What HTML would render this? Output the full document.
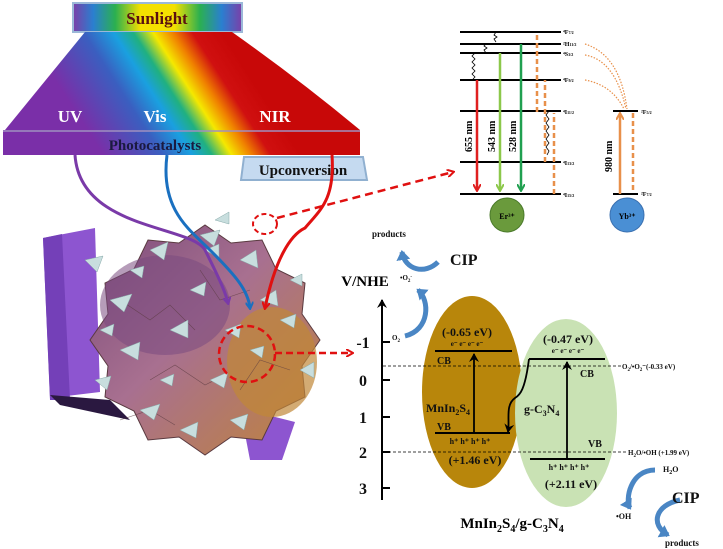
<!DOCTYPE html>
<html><head><meta charset="utf-8"><style>
body{margin:0;background:#fff}
svg{display:block;font-family:"Liberation Serif",serif;font-weight:bold}
</style></head><body>
<svg width="723" height="549" viewBox="0 0 723 549" xmlns="http://www.w3.org/2000/svg">
<defs>
<linearGradient id="sun" x1="0" x2="1">
<stop offset="0" stop-color="#7b3fa8"/><stop offset="0.12" stop-color="#2a7fd0"/><stop offset="0.25" stop-color="#2bb050"/><stop offset="0.4" stop-color="#f4e000"/><stop offset="0.6" stop-color="#f4e000"/><stop offset="0.75" stop-color="#2bb050"/><stop offset="0.88" stop-color="#2a7fd0"/><stop offset="1" stop-color="#7b3fa8"/>
</linearGradient>
<linearGradient id="spec" gradientUnits="userSpaceOnUse" x1="100" y1="150" x2="240" y2="60">
<stop offset="0" stop-color="#7a2fa8"/><stop offset="0.3" stop-color="#3a5fc0"/><stop offset="0.45" stop-color="#1aa0e0"/><stop offset="0.55" stop-color="#20b080"/><stop offset="0.65" stop-color="#f5e800"/><stop offset="0.75" stop-color="#f08000"/><stop offset="0.85" stop-color="#d01010"/><stop offset="1" stop-color="#c80808"/>
</linearGradient>
<linearGradient id="blob" x1="0" y1="0" x2="1" y2="1">
<stop offset="0" stop-color="#7a4a7a"/><stop offset="0.45" stop-color="#a87090"/><stop offset="1" stop-color="#c08438"/>
</linearGradient>
<marker id="ar" markerWidth="8" markerHeight="8" refX="6" refY="4" orient="auto" markerUnits="userSpaceOnUse"><path d="M0,0 L7,4 L0,8" fill="none" stroke="context-stroke" stroke-width="2"/></marker>
<marker id="ab" markerWidth="10" markerHeight="10" refX="8" refY="5" orient="auto" markerUnits="userSpaceOnUse"><path d="M0,0 L9,5 L0,10 L3,5z" fill="#000"/></marker>
<marker id="ablue" markerWidth="14" markerHeight="14" refX="8" refY="7" orient="auto" markerUnits="userSpaceOnUse"><path d="M0,0 L10,7 L0,14z" fill="#4a86c4"/></marker>
</defs>

<rect x="73" y="3" width="169" height="29" fill="url(#sun)" stroke="#9bb8d8" stroke-width="2"/>
<text x="157" y="24" font-size="17" text-anchor="middle" fill="#5a1010">Sunlight</text>
<path d="M85,32 L232,32 Q300,80 360,130 L5,130 Z" fill="url(#spec)"/>
<rect x="3" y="130" width="357" height="25" fill="url(#spec)"/>
<line x1="3" y1="131" x2="360" y2="131" stroke="#a090c0" stroke-width="1.5"/>
<text x="70" y="122" font-size="17" fill="#fff" text-anchor="middle">UV</text>
<text x="155" y="122" font-size="17" fill="#fff" text-anchor="middle">Vis</text>
<text x="275" y="122" font-size="17" fill="#fff" text-anchor="middle">NIR</text>
<text x="155" y="150" font-size="15" fill="#1a1a40" text-anchor="middle">Photocatalysts</text>
<path d="M244,157 L363,157 L367,180 L241,180 Z" fill="#c5daf0" stroke="#90b0d0" stroke-width="2"/>
<text x="303" y="175" font-size="15" fill="#111" text-anchor="middle">Upconversion</text>

<!-- material -->
<path d="M43,238 L95,228 L100,392 L50,398 Z" fill="#8d55d0"/>
<path d="M43,238 L62,234 L70,400 L50,400Z" fill="#7440b8"/>
<path d="M50,395 L110,400 L130,420 L60,405Z" fill="#2a1840"/>
<path d="M240,408 L295,422 L282,460 L250,460Z" fill="#8d55d0"/>
<polygon points="320,340 302,314 305,283 276,269 262,240 231,243 205,225 179,243 148,240 134,269 105,283 108,314 90,340 108,366 105,397 134,411 148,440 179,437 205,455 231,437 262,440 276,411 305,397 302,366" fill="url(#blob)" stroke="#5a3a40" stroke-width="1"/>
<ellipse cx="165" cy="305" rx="65" ry="50" fill="#7a4a80" opacity="0.55"/>
<ellipse cx="272" cy="362" rx="45" ry="55" fill="#c08838" opacity="0.7"/>
<g fill="none" stroke="#5a3a40" stroke-width="0.6" opacity="0.7">
<path d="M120,300 l30,20 l20,-15 l25,25"/><path d="M150,380 l25,-15 l30,20 l20,-10"/><path d="M200,270 l20,30 l30,-10"/><path d="M240,390 l20,-30 l30,10"/><path d="M120,420 l30,-10 l25,15"/>
</g>
<g fill="#c8dede" stroke="#8aa" stroke-width="0.5">
<path d="M150,250 l18,-8 l-4,18z"/><path d="M200,235 l20,-5 l-6,16z"/><path d="M240,260 l16,-10 l2,18z"/>
<path d="M110,300 l22,-6 l-8,18z"/><path d="M85,260 l18,-4 l-6,16z"/><path d="M120,350 l20,-8 l-2,18z"/>
<path d="M170,330 l18,-10 l0,18z"/><path d="M210,380 l18,-8 l-4,16z"/><path d="M140,410 l20,-6 l-6,16z"/>
<path d="M180,430 l18,-8 l-2,16z"/><path d="M230,420 l18,-6 l-4,16z"/><path d="M280,320 l16,-6 l-2,14z"/>
<path d="M300,370 l14,-8 l0,16z"/><path d="M260,300 l16,-10 l2,16z"/><path d="M95,380 l16,-4 l-4,14z"/>
<path d="M190,290 l16,-8 l-2,14z"/><path d="M225,330 l16,-6 l-2,14z"/><path d="M130,270 l14,-4 l-2,12z"/>
<path d="M160,380 l14,-6 l-2,12z"/><path d="M250,350 l14,-4 l-2,12z"/><path d="M205,250 l14,-6 l0,14z"/>
<path d="M100,330 l14,-6 l-2,12z"/><path d="M290,280 l12,-6 l0,12z"/><path d="M215,220 l14,-8 l0,12z"/>
</g>
<path d="M75,155 C80,230 190,225 205,250 C215,270 225,290 228,303" fill="none" stroke="#7a3aa8" stroke-width="3" marker-end="url(#ar)"/>
<path d="M167,155 C160,210 190,230 210,250 C235,275 248,290 250,308" fill="none" stroke="#1a70c0" stroke-width="3" marker-end="url(#ar)"/>
<path d="M332,155 C335,200 320,210 305,228 C290,235 275,260 265,308" fill="none" stroke="#e01010" stroke-width="3" marker-end="url(#ar)"/>
<ellipse cx="265" cy="224" rx="12" ry="10" fill="none" stroke="#e01010" stroke-width="2" stroke-dasharray="5,3"/>
<path d="M277,218 L453,172" stroke="#e01010" stroke-width="2.5" stroke-dasharray="8,5" fill="none" marker-end="url(#ar)"/>
<circle cx="247" cy="354" r="28" fill="none" stroke="#e01010" stroke-width="2.5" stroke-dasharray="7,4"/>
<path d="M275,353 L352,353" stroke="#e01010" stroke-width="2.5" stroke-dasharray="7,4" fill="none" marker-end="url(#ar)"/>

<g stroke="#000" stroke-width="2">
<line x1="460" y1="32" x2="561" y2="32"/><line x1="460" y1="44" x2="561" y2="44"/><line x1="460" y1="53" x2="561" y2="53"/>
<line x1="460" y1="80" x2="561" y2="80"/><line x1="460" y1="111" x2="561" y2="111"/><line x1="460" y1="162" x2="561" y2="162"/>
<line x1="460" y1="194" x2="561" y2="194"/><line x1="613" y1="111" x2="638" y2="111"/><line x1="613" y1="194" x2="638" y2="194"/>
</g>
<g fill="none" stroke="#000" stroke-width="0.8">
<path d="M496,32 l-2,3 l3,2 l-3,2 l2,3"/><path d="M486,44 l-2,2 l3,2 l-3,2 l2,3"/>
<path d="M475,53 l-3,3 l3,3 l-3,3 l3,3 l-3,3 l3,3 l-3,3 l3,3 l-2,2"/>
<path d="M549,111 l-3,4 l3,4 l-3,4 l3,4 l-3,4 l3,4 l-3,4 l3,4 l-3,4 l3,4 l-2,4"/>
</g>
<line x1="477" y1="80" x2="477" y2="190" stroke="#e02020" stroke-width="2.5" marker-end="url(#ar)"/>
<line x1="500" y1="53" x2="500" y2="190" stroke="#8cc84a" stroke-width="2.5" marker-end="url(#ar)"/>
<line x1="521" y1="44" x2="521" y2="190" stroke="#20a050" stroke-width="2.5" marker-end="url(#ar)"/>
<g stroke="#e8904a" stroke-width="2.5" stroke-dasharray="5,3">
<line x1="537" y1="112" x2="537" y2="32"/><line x1="545" y1="162" x2="545" y2="80"/><line x1="554" y1="194" x2="554" y2="113"/>
<line x1="633" y1="113" x2="633" y2="192"/>
</g>
<line x1="620" y1="194" x2="620" y2="114" stroke="#e8904a" stroke-width="2.5" marker-end="url(#ar)"/>
<g fill="none" stroke="#e8904a" stroke-width="1.2" stroke-dasharray="1.5,1.5">
<path d="M585,44 Q620,55 627,109"/><path d="M585,55 Q615,60 626,109"/><path d="M585,80 Q612,85 624,109"/>
</g>
<g font-size="6" fill="#000">
<text x="563" y="34">⁴F<tspan font-size="4">7/2</tspan></text><text x="563" y="46">²H<tspan font-size="4">11/2</tspan></text>
<text x="563" y="56">⁴S<tspan font-size="4">3/2</tspan></text><text x="563" y="82">⁴F<tspan font-size="4">9/2</tspan></text>
<text x="563" y="114">⁴I<tspan font-size="4">11/2</tspan></text><text x="563" y="165">⁴I<tspan font-size="4">13/2</tspan></text>
<text x="563" y="197">⁴I<tspan font-size="4">15/2</tspan></text>
<text x="641" y="114">²F<tspan font-size="4">5/2</tspan></text><text x="641" y="196">²F<tspan font-size="4">7/2</tspan></text>
</g>
<g font-size="10" fill="#000">
<text transform="translate(472,152) rotate(-90)">655 nm</text>
<text transform="translate(495,152) rotate(-90)">543 nm</text>
<text transform="translate(516,152) rotate(-90)">528 nm</text>
<text transform="translate(612,172) rotate(-90)">980 nm</text>
</g>
<circle cx="507" cy="215" r="17" fill="#6a9a3c" stroke="#4a7a2a"/>
<text x="507" y="219" font-size="8" text-anchor="middle">Er³⁺</text>
<circle cx="627" cy="215" r="17" fill="#4a8fd4" stroke="#3a70b0"/>
<text x="627" y="219" font-size="8" text-anchor="middle">Yb³⁺</text>

<ellipse cx="472" cy="392" rx="50" ry="96" fill="#b8860b"/>
<ellipse cx="566" cy="413" rx="51" ry="94" fill="#c9e2b4"/>
<line x1="382" y1="500" x2="382" y2="300" stroke="#000" stroke-width="2" marker-end="url(#ab)"/>
<g stroke="#000" stroke-width="2">
<line x1="382" y1="342" x2="390" y2="342"/><line x1="382" y1="380" x2="390" y2="380"/><line x1="382" y1="417" x2="390" y2="417"/>
<line x1="382" y1="452" x2="390" y2="452"/><line x1="382" y1="488" x2="390" y2="488"/>
</g>
<g font-size="16" text-anchor="middle" fill="#111">
<text x="363" y="348">-1</text><text x="363" y="386">0</text><text x="363" y="423">1</text><text x="363" y="458">2</text><text x="363" y="494">3</text>
</g>
<text x="365" y="286" font-size="15" text-anchor="middle">V/NHE</text>
<line x1="383" y1="366" x2="622" y2="366" stroke="#000" stroke-dasharray="3,2" stroke-width="0.8"/>
<line x1="383" y1="452" x2="626" y2="452" stroke="#000" stroke-dasharray="3,2" stroke-width="0.8"/>
<g stroke="#000" stroke-width="2">
<line x1="435" y1="351" x2="512" y2="351"/><line x1="435" y1="433" x2="510" y2="433"/>
<line x1="529" y1="359" x2="605" y2="359"/><line x1="530" y1="459" x2="605" y2="459"/>
</g>
<line x1="474" y1="433" x2="474" y2="354" stroke="#000" stroke-width="1.8" marker-end="url(#ab)"/>
<line x1="567" y1="459" x2="567" y2="362" stroke="#000" stroke-width="1.8" marker-end="url(#ab)"/>
<path d="M529,359 C525,390 520,395 515,398 C505,405 510,420 508,432" fill="none" stroke="#000" stroke-width="1.8" marker-end="url(#ab)"/>
<g font-size="11" fill="#111">
<text x="467" y="336" text-anchor="middle" font-size="12">(-0.65 eV)</text>
<text x="467" y="346" text-anchor="middle" font-size="7">e⁻ e⁻ e⁻ e⁻</text>
<text x="437" y="364" font-size="10">CB</text>
<text x="426" y="412" font-size="12">MnIn<tspan font-size="8" dy="3">2</tspan><tspan dy="-3">S</tspan><tspan font-size="8" dy="3">4</tspan></text>
<text x="437" y="430" font-size="10">VB</text>
<text x="470" y="444" text-anchor="middle" font-size="8">h⁺ h⁺ h⁺ h⁺</text>
<text x="475" y="464" text-anchor="middle" font-size="12">(+1.46 eV)</text>
<text x="568" y="343" text-anchor="middle" font-size="12">(-0.47 eV)</text>
<text x="568" y="353" text-anchor="middle" font-size="7">e⁻ e⁻ e⁻ e⁻</text>
<text x="580" y="377" font-size="10">CB</text>
<text x="524" y="413" font-size="12">g-C<tspan font-size="8" dy="3">3</tspan><tspan dy="-3">N</tspan><tspan font-size="8" dy="3">4</tspan></text>
<text x="588" y="447" font-size="10">VB</text>
<text x="569" y="470" text-anchor="middle" font-size="8">h⁺ h⁺ h⁺ h⁺</text>
<text x="571" y="488" text-anchor="middle" font-size="12">(+2.11 eV)</text>
<text x="622" y="369" font-size="7">O<tspan font-size="5" dy="2">2</tspan><tspan dy="-2">/•O</tspan><tspan font-size="5" dy="2">2</tspan><tspan dy="-2">⁻(-0.33 eV)</tspan></text>
<text x="628" y="455" font-size="7">H<tspan font-size="5" dy="2">2</tspan><tspan dy="-2">O/•OH  (+1.99 eV)</tspan></text>
</g>
<text x="512" y="528" font-size="15" text-anchor="middle">MnIn<tspan font-size="10" dy="4">2</tspan><tspan dy="-4">S</tspan><tspan font-size="10" dy="4">4</tspan><tspan dy="-4">/g-C</tspan><tspan font-size="10" dy="4">3</tspan><tspan dy="-4">N</tspan><tspan font-size="10" dy="4">4</tspan></text>

<g fill="none" stroke="#4a86c4" stroke-width="5">
<path d="M438,262 C425,275 405,270 402,252" marker-end="url(#ablue)"/>
<path d="M405,336 C430,330 430,300 418,290" marker-end="url(#ablue)"/>
<path d="M655,470 C630,470 625,500 630,508" marker-end="url(#ablue)"/>
<path d="M680,500 C655,505 650,525 668,535" marker-end="url(#ablue)"/>
</g>
<g fill="#111">
<text x="372" y="237" font-size="9">products</text>
<text x="450" y="265" font-size="16">CIP</text>
<text x="400" y="280" font-size="7">•O<tspan font-size="5" dy="2">2</tspan><tspan dy="-4" font-size="5">-</tspan></text>
<text x="392" y="340" font-size="7">O<tspan font-size="5" dy="2">2</tspan></text>
<text x="663" y="472" font-size="8">H<tspan font-size="6" dy="2">2</tspan><tspan dy="-2">O</tspan></text>
<text x="616" y="519" font-size="8">•OH</text>
<text x="672" y="503" font-size="16">CIP</text>
<text x="665" y="546" font-size="9">products</text>
</g>
</svg>
</body></html>
